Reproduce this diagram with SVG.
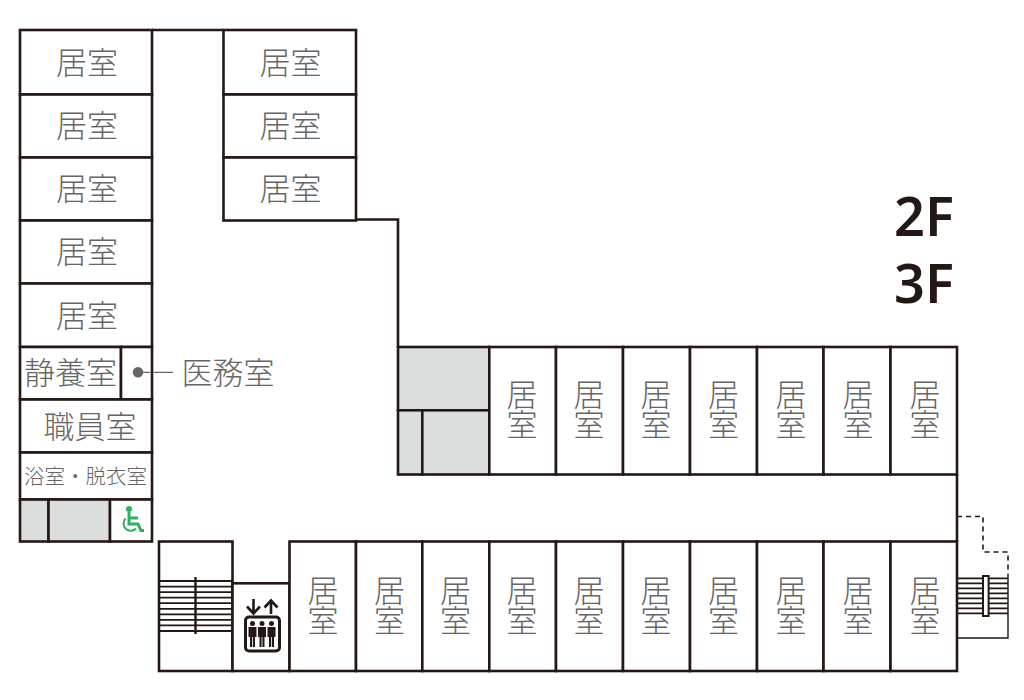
<svg xmlns="http://www.w3.org/2000/svg" width="1024" height="700" viewBox="0 0 1024 700">
<style>
.r{fill:#fff;stroke:#231815;stroke-width:2.600}
.g{fill:#dcdddd;stroke:#231815;stroke-width:2.600}
.w{fill:none;stroke:#231815;stroke-width:2.600}
.s{fill:none;stroke:#231815;stroke-width:1.800}
.t{font-family:"Noto Sans CJK JP","Noto Sans",sans-serif;font-weight:300;fill:#666;font-size:31px;text-anchor:middle}
.v{writing-mode:vertical-rl;letter-spacing:-1px}
.f{font-family:"Noto Sans","Open Sans",sans-serif;font-weight:600;fill:#231815;font-size:54px;text-anchor:middle}
</style>
<rect width="1024" height="700" fill="#fff"/>
<g id="room-l1"><rect class="r" x="20" y="30" width="132" height="64.500"/><text class="t" x="87" y="74">居室</text></g>
<g id="room-l2"><rect class="r" x="20" y="94.500" width="132" height="63"/><text class="t" x="87" y="137">居室</text></g>
<g id="room-l3"><rect class="r" x="20" y="157.500" width="132" height="63"/><text class="t" x="87" y="200">居室</text></g>
<g id="room-l4"><rect class="r" x="20" y="220.500" width="132" height="63"/><text class="t" x="87" y="263">居室</text></g>
<g id="room-l5"><rect class="r" x="20" y="283.500" width="132" height="63.500"/><text class="t" x="87" y="327">居室</text></g>
<g id="room-u1"><rect class="r" x="223.500" y="30" width="132.500" height="64.500"/><text class="t" x="290.500" y="74">居室</text></g>
<g id="room-u2"><rect class="r" x="223.500" y="94.500" width="132.500" height="63"/><text class="t" x="290.500" y="137">居室</text></g>
<g id="room-u3"><rect class="r" x="223.500" y="157.500" width="132.500" height="63"/><text class="t" x="290.500" y="200">居室</text></g>
<g id="seiyoshitsu"><rect class="r" x="20" y="347" width="101" height="52.500"/><text class="t" x="70.500" y="384">静養室</text></g>
<g id="imushitsu"><rect class="r" x="121" y="347" width="31" height="52.500"/><circle cx="138" cy="372.300" r="5.300" fill="#666"/><text class="t" x="228" y="383.500">医務室</text></g>
<g id="shokuinshitsu"><rect class="r" x="20" y="399.500" width="132" height="53"/><text class="t" x="90" y="438">職員室</text></g>
<g id="yokushitsu"><rect class="r" x="20" y="452.500" width="132" height="47"/><text class="t" x="85.500" y="484" style="font-size:20.500px">浴室・脱衣室</text></g>
<g id="wc-1"><rect class="g" x="20" y="499.500" width="28.500" height="42"/></g>
<g id="wc-2"><rect class="g" x="48.500" y="499.500" width="61.500" height="42"/></g>
<g id="wc-3"><rect class="r" x="110" y="499.500" width="42" height="42"/>
<circle cx="129" cy="509" r="3" fill="#2eb062"/>
<path d="M129 512V524H138L141 530.500H144M129 518H138" fill="none" stroke="#2eb062" stroke-width="3"/>
<path d="M125.500 518.500A7 7 0 1 0 136 528.500" fill="none" stroke="#2eb062" stroke-width="2"/>
</g>
<g id="service-1"><rect class="g" x="398" y="347" width="91.300" height="63.300"/></g>
<g id="service-2"><rect class="g" x="398" y="410.300" width="24.300" height="64.200"/></g>
<g id="service-3"><rect class="g" x="422.300" y="410.300" width="67" height="64.200"/></g>
<g id="room-m1"><rect class="r" x="489.300" y="347" width="66.700" height="127.500"/><text class="t v" x="522" y="409">居室</text></g>
<g id="room-m2"><rect class="r" x="556" y="347" width="67" height="127.500"/><text class="t v" x="589" y="409">居室</text></g>
<g id="room-m3"><rect class="r" x="623" y="347" width="67" height="127.500"/><text class="t v" x="656" y="409">居室</text></g>
<g id="room-m4"><rect class="r" x="690" y="347" width="67" height="127.500"/><text class="t v" x="723.500" y="409">居室</text></g>
<g id="room-m5"><rect class="r" x="757" y="347" width="66.500" height="127.500"/><text class="t v" x="791" y="409">居室</text></g>
<g id="room-m6"><rect class="r" x="823.500" y="347" width="67" height="127.500"/><text class="t v" x="858" y="409">居室</text></g>
<g id="room-m7"><rect class="r" x="890.500" y="347" width="66.500" height="127.500"/><text class="t v" x="925" y="409">居室</text></g>
<g id="stairs-left"><rect class="r" x="159" y="541.500" width="73.500" height="129.500"/>
<path class="s" d="M159 581H233M159 586.600H233M159 592.100H233M159 597.700H233M159 603.200H233M159 608.800H233M159 614.300H233M159 619.900H233M159 625.400H233M159 631H233"/>
<path d="M195.500 577V634" stroke="#231815" stroke-width="2.400"/></g>
<g id="elevator"><rect class="r" x="232.500" y="583.300" width="57" height="87.700"/>
<path d="M253.500 599V613M247 606.500L253.500 613.500L260 606.500M271 614V601M264.500 607.500L271 600.500L277.500 607.500" fill="none" stroke="#231815" stroke-width="2.600"/>
<rect x="245.500" y="617" width="34" height="34" rx="3.500" fill="none" stroke="#231815" stroke-width="3"/>
<g fill="#231815"><circle cx="252.500" cy="623.500" r="2.500"/><circle cx="262" cy="623.500" r="2.500"/><circle cx="271.500" cy="623.500" r="2.500"/>
<path d="M248.500 627H256.500V637H255V647H250V637H248.500Z"/><path d="M258 627H266V637H264.500V647H259.500V637H258Z"/><path d="M267.500 627H275.500V637H274V647H269V637H267.500Z"/></g>
<path d="M252.500 637V647M262 637V647M271.500 637V647" stroke="#fff" stroke-width=".8"/></g>
<g id="room-b1"><rect class="r" x="289.500" y="541.500" width="66.500" height="129.500"/><text class="t v" x="323" y="604.500">居室</text></g>
<g id="room-b2"><rect class="r" x="356" y="541.500" width="66.300" height="129.500"/><text class="t v" x="389.500" y="604.500">居室</text></g>
<g id="room-b3"><rect class="r" x="422.300" y="541.500" width="67" height="129.500"/><text class="t v" x="455.500" y="604.500">居室</text></g>
<g id="room-b4"><rect class="r" x="489.300" y="541.500" width="66.700" height="129.500"/><text class="t v" x="522" y="604.500">居室</text></g>
<g id="room-b5"><rect class="r" x="556" y="541.500" width="67" height="129.500"/><text class="t v" x="589" y="604.500">居室</text></g>
<g id="room-b6"><rect class="r" x="623" y="541.500" width="67" height="129.500"/><text class="t v" x="656" y="604.500">居室</text></g>
<g id="room-b7"><rect class="r" x="690" y="541.500" width="67" height="129.500"/><text class="t v" x="723.500" y="604.500">居室</text></g>
<g id="room-b8"><rect class="r" x="757" y="541.500" width="66.500" height="129.500"/><text class="t v" x="791" y="604.500">居室</text></g>
<g id="room-b9"><rect class="r" x="823.500" y="541.500" width="67" height="129.500"/><text class="t v" x="858" y="604.500">居室</text></g>
<g id="room-b10"><rect class="r" x="890.500" y="541.500" width="66.500" height="129.500"/><text class="t v" x="925" y="604.500">居室</text></g>
<g id="stairs-right">
<path d="M1008 574V638H957" fill="none" stroke="#231815" stroke-width="1.400"/>
<path class="s" d="M957 578.300H1008M957 583.300H1008M957 588.300H1008M957 593.300H1008M957 598.300H1008M957 603.300H1008M957 608.300H1008M957 613.300H1008"/>
<rect x="983" y="576" width="5.600" height="40" fill="#fff" stroke="#231815" stroke-width="2"/></g>
<g id="connectors">
<path class="w" d="M152 30H223M356 219.500H398V347M957 474.500V541.500"/>
<path d="M957 516.500H983V552H1008V574" fill="none" stroke="#231815" stroke-width="1.600" stroke-dasharray="5 4"/>
<path d="M138 372.300H150.700M153.300 372.300H173" stroke="#666" stroke-width="1.200" fill="none"/>
</g>
<g id="floor-labels"><text class="f" x="924" y="236">2F</text><text class="f" x="924" y="303">3F</text></g>
</svg>
